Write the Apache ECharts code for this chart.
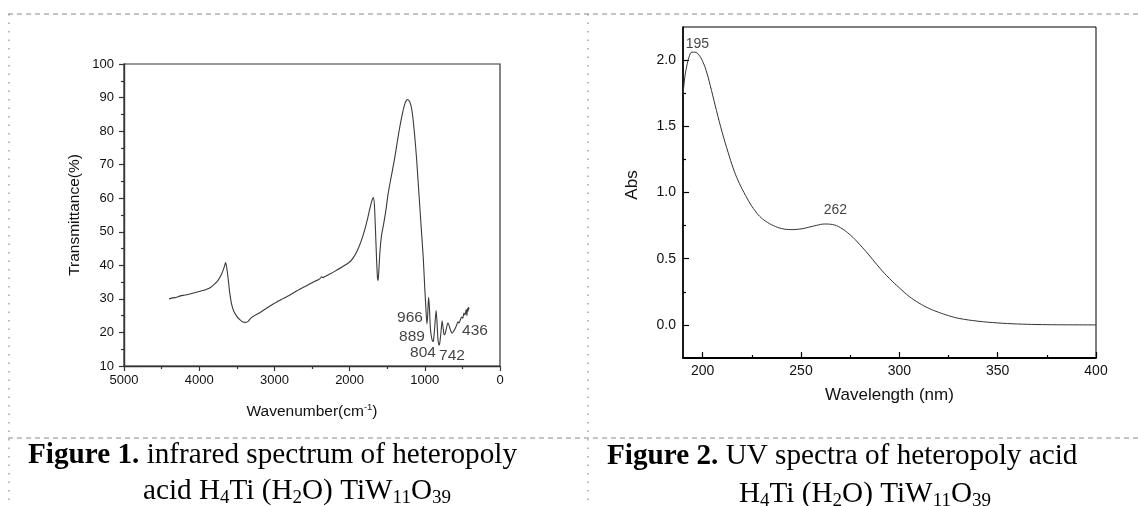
<!DOCTYPE html>
<html>
<head>
<meta charset="utf-8">
<script src="https://cdn.jsdelivr.net/npm/echarts@6/dist/echarts.min.js"></script>
<style>
html,body{margin:0;padding:0;background:#fff;}
#c{width:1138px;height:506px;}
</style>
</head>
<body>
<div id="c"></div>
<script>
// ---- Figure 1: IR spectrum (wavenumber cm-1, transmittance %) ----
const irWavenumber = [4400,4350,4300,4250,4200,4150,4100,4050,4000,3950,3900,3850,3800,3750,3700,3670,3650,3635,3615,3595,3570,3540,3500,3460,3420,3380,3350,3320,3280,3200,3100,3000,2900,2800,2700,2600,2500,2400,2370,2355,2340,2300,2200,2100,2000,1950,1900,1850,1800,1760,1730,1700,1685,1670,1655,1640,1628,1620,1610,1595,1575,1550,1520,1490,1450,1400,1350,1300,1260,1230,1200,1170,1140,1110,1080,1050,1020,1000,985,972,962,950,940,925,910,895,885,870,850,840,825,810,800,785,770,760,745,735,720,700,690,670,650,635,610,580,560,545,530,510,495,480,465,450,440,432,425,418,412];
const irTransmittance = [30.0,30.3,30.5,30.9,31.1,31.3,31.6,31.9,32.2,32.5,32.9,33.4,34.3,35.5,37.5,39.3,40.8,39.5,36.0,32.0,28.5,26.3,24.8,23.8,23.1,23.0,23.3,24.1,24.8,25.8,27.3,28.7,29.9,31.1,32.4,33.6,34.8,35.9,36.6,36.3,36.5,37.0,38.2,39.5,41.0,42.3,44.3,47.0,50.5,54.0,57.0,59.5,60.2,58.0,50.0,41.0,36.0,35.5,39.0,44.5,49.0,52.0,56.0,61.0,66.0,72.0,79.0,85.0,88.5,89.4,88.8,86.0,80.0,72.0,62.0,52.0,42.0,33.0,27.0,22.5,25.0,30.5,28.0,21.0,18.5,17.3,17.5,21.0,26.5,24.0,18.0,16.2,17.0,20.0,23.5,22.0,19.5,19.3,20.5,22.5,22.8,21.5,20.2,19.8,20.6,22.0,23.2,22.8,23.6,24.6,24.2,25.8,25.2,26.8,25.0,27.2,26.3,27.5,26.9];
const irXTicks = [5000,4000,3000,2000,1000,0];
const irYTicks = [10,20,30,40,50,60,70,80,90,100];
const irPeakText = ['966','889','804','742','436'];
const irPeakLabelX = [1197,1170,1024,638,332];
const irPeakLabelY = [24.3,18.7,14.0,13.0,20.4];

// ---- Figure 2: UV spectrum (wavelength nm, absorbance) ----
const uvWavelength = [190,191,192,193,194.5,196,198,200,202,204.5,207,210,213,215.5,218,221,224,226.5,229,232,236,240,245,250,254,258,262,266,270,275,280,285,290,295,300,305,310,315,320,325,330,340,350,360,370,380,400];
const uvAbs = [1.74,1.88,1.96,2.02,2.06,2.06,2.04,1.99,1.91,1.77,1.62,1.45,1.30,1.185,1.09,1.0,0.92,0.865,0.82,0.783,0.75,0.728,0.72,0.725,0.738,0.752,0.762,0.758,0.735,0.68,0.605,0.52,0.43,0.35,0.28,0.215,0.165,0.125,0.095,0.07,0.05,0.028,0.015,0.007,0.003,0.001,0.0];
const uvXTicks = [200,250,300,350,400];
const uvXMinorTicks = [225,275,325,375];
const uvYTicks = [0,0.5,1.0,1.5,2.0];
const uvYMinorTicks = [0.25,0.75,1.25,1.75];
const uvPeakText = ['195','262'];
const uvPeakLabelX = [197.3,267.5];
const uvPeakLabelY = [2.12,0.87];

const SANS = '"Liberation Sans", Arial, sans-serif';
const SERIF = '"Liberation Serif", "Times New Roman", serif';

const irLine = irWavenumber.map((w,i)=>[w, irTransmittance[i]]);
const uvLine = uvWavelength.map((w,i)=>[w, uvAbs[i]]);
const irPeaks = irPeakText.map((t,i)=>({name:t, value:[irPeakLabelX[i], irPeakLabelY[i]]}));
const uvPeaks = uvPeakText.map((t,i)=>({name:t, value:[uvPeakLabelX[i], uvPeakLabelY[i]]}));

const chart = echarts.init(document.getElementById('c'), null, {renderer:'canvas'});

const dashColor = '#8a8a8a';
function hLine(y){ return {type:'line', silent:true, shape:{x1:8,y1:y,x2:1138,y2:y}, style:{stroke:dashColor,lineWidth:1,lineDash:[5,4]}}; }
function vLine(x){ return {type:'line', silent:true, shape:{x1:x,y1:14,x2:x,y2:506}, style:{stroke:dashColor,lineWidth:1.2,lineDash:[1.5,7]}}; }

const capRich = {
  b:{fontFamily:SERIF,fontSize:29.2,fontWeight:'bold',color:'#000',lineHeight:34},
  n:{fontFamily:SERIF,fontSize:29.2,color:'#000',lineHeight:34},
  s:{fontFamily:SERIF,fontSize:19,color:'#000',lineHeight:16,verticalAlign:'bottom'}
};

const option = {
  backgroundColor:'#fff',
  animation:false,
  grid:[
    {left:124, top:64, width:376, height:302, show:true, borderColor:'#333', borderWidth:1.2, backgroundColor:'transparent'},
    {left:683, top:27, width:413, height:331, show:true, borderColor:'#000', borderWidth:1, backgroundColor:'transparent'}
  ],
  xAxis:[
    {gridIndex:0, type:'value', min:0, max:5000, interval:1000, inverse:true, position:'bottom',
     name:'Wavenumber(cm{sup|-1})', nameLocation:'middle', nameGap:36,
     nameTextStyle:{fontFamily:SANS,fontSize:15.5,color:'#111',rich:{sup:{fontFamily:SANS,fontSize:9.5,color:'#111',verticalAlign:'top',lineHeight:19}}},
     axisLine:{show:true,onZero:false,lineStyle:{color:'#333',width:1.4}},
     axisTick:{show:true,inside:false,length:5,lineStyle:{color:'#333',width:1.2}},
     minorTick:{show:true,splitNumber:2,length:3,lineStyle:{color:'#333',width:1.2}},
     axisLabel:{fontFamily:SANS,fontSize:13,color:'#111',margin:8,formatter:v=>String(v)},
     splitLine:{show:false}},
    {gridIndex:1, type:'value', min:190, max:400, position:'bottom',
     name:'Wavelength (nm)', nameLocation:'middle', nameGap:29,
     nameTextStyle:{fontFamily:SANS,fontSize:17,color:'#111'},
     axisLine:{show:true,onZero:false,lineStyle:{color:'#000',width:1.8}},
     axisTick:{show:true,inside:true,length:6,customValues:uvXTicks,lineStyle:{color:'#000',width:1.2}},
     axisLabel:{fontFamily:SANS,fontSize:14,color:'#111',margin:6,customValues:uvXTicks,showMinLabel:true,showMaxLabel:true,formatter:v=>String(v)},
     splitLine:{show:false}},
    {gridIndex:1, type:'value', min:190, max:400, position:'bottom',
     axisLine:{show:false,onZero:false},
     axisTick:{show:true,inside:true,length:3,customValues:uvXMinorTicks,lineStyle:{color:'#000',width:1.2}},
     axisLabel:{show:false},
     splitLine:{show:false}}
  ],
  yAxis:[
    {gridIndex:0, type:'value', min:10, max:100, interval:10, position:'left',
     name:'Transmittance(%)', nameLocation:'middle', nameGap:41,
     nameTextStyle:{fontFamily:SANS,fontSize:15.5,color:'#111'},
     axisLine:{show:true,onZero:false,lineStyle:{color:'#333',width:1.4}},
     axisTick:{show:true,inside:false,length:5,lineStyle:{color:'#333',width:1.2}},
     minorTick:{show:true,splitNumber:2,length:3,lineStyle:{color:'#333',width:1.2}},
     axisLabel:{fontFamily:SANS,fontSize:13,color:'#111',margin:10},
     splitLine:{show:false}},
    {gridIndex:1, type:'value', min:-0.25, max:2.25, position:'left',
     name:'Abs', nameLocation:'middle', nameGap:42,
     nameTextStyle:{fontFamily:SANS,fontSize:17,color:'#111',padding:[0,0,0,15]},
     axisLine:{show:true,onZero:false,lineStyle:{color:'#000',width:1.6}},
     axisTick:{show:true,inside:true,length:6,customValues:uvYTicks,lineStyle:{color:'#000',width:1.2}},
     axisLabel:{fontFamily:SANS,fontSize:14,color:'#111',margin:7,customValues:uvYTicks,formatter:v=>Number(v).toFixed(1)},
     splitLine:{show:false}},
    {gridIndex:1, type:'value', min:-0.25, max:2.25, position:'left',
     axisLine:{show:false,onZero:false},
     axisTick:{show:true,inside:true,length:3,customValues:uvYMinorTicks,lineStyle:{color:'#000',width:1.2}},
     axisLabel:{show:false},
     splitLine:{show:false}}
  ],
  series:[
    {type:'line', xAxisIndex:0, yAxisIndex:0, data:irLine, showSymbol:false, symbol:'none', smooth:0.2,
     lineStyle:{color:'#3a3a3a',width:1.1}},
    {type:'scatter', xAxisIndex:0, yAxisIndex:0, data:irPeaks, symbolSize:0,
     label:{show:true,position:'inside',formatter:p=>p.name,fontFamily:SANS,fontSize:15.5,color:'#111'}},
    {type:'line', xAxisIndex:1, yAxisIndex:1, data:uvLine, showSymbol:false, symbol:'none', smooth:0.4,
     lineStyle:{color:'#333',width:1}},
    {type:'scatter', xAxisIndex:1, yAxisIndex:1, data:uvPeaks, symbolSize:0,
     label:{show:true,position:'inside',formatter:p=>p.name,fontFamily:SANS,fontSize:14,color:'#111'}}
  ],
  graphic:[
    hLine(14), hLine(438), vLine(9), vLine(588),
    {type:'text', left:28, top:441, silent:true,
     style:{text:'{b|Figure 1.}{n| infrared spectrum of heteropoly}', rich:capRich}},
    {type:'text', x:297, y:474, silent:true,
     style:{text:'{n|acid H}{s|4}{n|Ti (H}{s|2}{n|O) TiW}{s|11}{n|O}{s|39}', rich:capRich, align:'center'}},
    {type:'text', left:607, top:442, silent:true,
     style:{text:'{b|Figure 2.}{n| UV spectra of heteropoly acid}', rich:capRich}},
    {type:'text', x:865, y:477, silent:true,
     style:{text:'{n|H}{s|4}{n|Ti (H}{s|2}{n|O) TiW}{s|11}{n|O}{s|39}', rich:capRich, align:'center'}}
  ]
};
chart.setOption(option);
</script>
</body>
</html>
